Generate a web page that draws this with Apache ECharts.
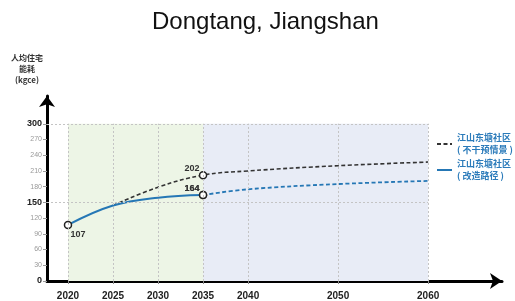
<!DOCTYPE html>
<html>
<head>
<meta charset="utf-8">
<script src="https://cdn.jsdelivr.net/npm/echarts@6/dist/echarts.min.js"></script>
<style>
  html, body { margin: 0; padding: 0; background: #fff; }
  #main { width: 515px; height: 301px; }
</style>
</head>
<body>
<div id="main"></div>
<script>
// data
var yearTicks = [2020, 2025, 2030, 2035, 2040, 2050, 2060];
var valueTicks = [0, 30, 60, 90, 120, 150, 180, 210, 240, 270, 300];
var boldTicks = [0, 150, 300];
var baseName = '江山东塘社区\n( 不干预情景 )';
var pathName = '江山东塘社区\n( 改造路径 )';
var baseData = [[2025, 144], [2030, 179], [2035, 202], [2040, 210], [2050, 220], [2060, 227]];
var pathData = [[2020, 107], [2025, 144], [2030, 159], [2035, 164]];
var pathFuture = [[2035, 164], [2040, 175], [2050, 185], [2060, 191]];
var labelled = { '2020-107': 'rb', '2035-202': 'lt', '2035-164': 'lt' };

var xMin = 2017.67, xMax = 2068.2, yMax = 353;

function marks(data) {
  return data.map(function (p) {
    var key = p[0] + '-' + p[1];
    if (!labelled[key]) return { value: p };
    var rb = labelled[key] == 'rb';
    return {
      value: p,
      symbol: 'circle',
      symbolSize: 7,
      itemStyle: { color: '#fff', borderColor: '#222', borderWidth: 1.5 },
      label: {
        show: true,
        position: rb ? 'bottom' : 'top',
        offset: rb ? [10, -4] : [-11, 7],
        color: '#333',
        fontSize: 9,
        fontWeight: 'bold',
        fontFamily: 'Liberation Sans'
      }
    };
  });
}

var chart = echarts.init(document.getElementById('main'));
var option = {
  animation: false,
  title: {
    text: 'Dongtang, Jiangshan',
    left: 147,
    top: 5,
    textStyle: { fontSize: 24, fontWeight: 'normal', color: '#111', fontFamily: 'Liberation Sans' }
  },
  legend: {
    orient: 'vertical',
    left: 431,
    top: 121,
    itemWidth: 15,
    itemHeight: 8,
    itemGap: -10,
    data: [baseName, pathName],
    itemStyle: { opacity: 0 },
    textStyle: {
      color: '#2b7bba', fontSize: 9, fontWeight: 'bold', lineHeight: 12,
      padding: [12, 0, 0, 0], fontFamily: 'Noto Sans CJK SC'
    }
  },
  grid: { left: 47, right: 13, top: 96, bottom: 18 },
  xAxis: {
    type: 'value', min: xMin, max: xMax,
    splitLine: { show: false },
    axisLine: { lineStyle: { color: '#000', width: 3 }, symbol: ['none', 'arrow'], symbolSize: [12, 12] },
    axisTick: { customValues: yearTicks, length: 3, lineStyle: { color: '#888', width: 1 } },
    axisLabel: {
      customValues: yearTicks, margin: 10, color: '#222', fontSize: 10, fontWeight: 'bold',
      fontFamily: 'Liberation Sans',
      formatter: function (v) { return String(v); }
    }
  },
  yAxis: {
    type: 'value', min: 0, max: yMax,
    name: '人均住宅\n能耗\n(kgce)',
    nameLocation: 'end',
    nameGap: 11,
    nameTextStyle: {
      align: 'center', verticalAlign: 'bottom', padding: [0, 40, 0, 0],
      fontSize: 8, fontWeight: 'bold', color: '#333', lineHeight: 11, fontFamily: 'Noto Sans CJK SC'
    },
    splitLine: { show: false },
    axisLine: { show: true, lineStyle: { color: '#000', width: 3 }, symbol: ['none', 'arrow'], symbolSize: [12, 11] },
    axisTick: { show: true, customValues: valueTicks, length: 4, lineStyle: { color: '#999', width: 1 } },
    axisLabel: {
      customValues: valueTicks, margin: 5,
      formatter: function (v) { return boldTicks.indexOf(v) >= 0 ? '{b|' + v + '}' : '{s|' + v + '}'; },
      rich: {
        b: { fontSize: 9, fontWeight: 'bold', color: '#222', fontFamily: 'Liberation Sans' },
        s: { fontSize: 7, color: '#999', fontFamily: 'Liberation Sans' }
      }
    }
  },
  series: [
    {
      name: 'bg', type: 'line', data: [], silent: true,
      markArea: {
        silent: true,
        data: [
          [{ coord: [2020, 0], itemStyle: { color: '#edf5e6' } }, { coord: [2035, 300] }],
          [{ coord: [2035, 0], itemStyle: { color: '#e8ecf6' } }, { coord: [2060, 300] }]
        ]
      },
      markLine: {
        silent: true, symbol: 'none', label: { show: false },
        lineStyle: { color: '#c4c4c4', type: [2, 2], width: 1 },
        data: yearTicks.map(function (y) { return [{ coord: [y, 0] }, { coord: [y, 300] }]; })
          .concat([150, 300].map(function (v) { return [{ coord: [xMin, v] }, { coord: [2060, v] }]; }))
      }
    },
    {
      name: baseName, type: 'line', smooth: 0.4, symbol: 'none', showSymbol: true,
      data: marks(baseData), z: 3,
      lineStyle: { color: '#333', width: 1.6, type: [4, 2.5] },
      itemStyle: { color: '#333' }
    },
    {
      name: pathName, type: 'line', smooth: 0.4, symbol: 'none', showSymbol: true,
      data: marks(pathData), z: 4,
      lineStyle: { color: '#2577b5', width: 2 },
      itemStyle: { color: '#2577b5' }
    },
    {
      name: 'pathFuture', type: 'line', smooth: 0.4, symbol: 'none', showSymbol: true,
      data: marks(pathFuture), z: 4,
      lineStyle: { color: '#2577b5', width: 1.8, type: [4, 2.5] },
      itemStyle: { color: '#2577b5' }
    }
  ]
};
chart.setOption(option);
</script>
</body>
</html>
